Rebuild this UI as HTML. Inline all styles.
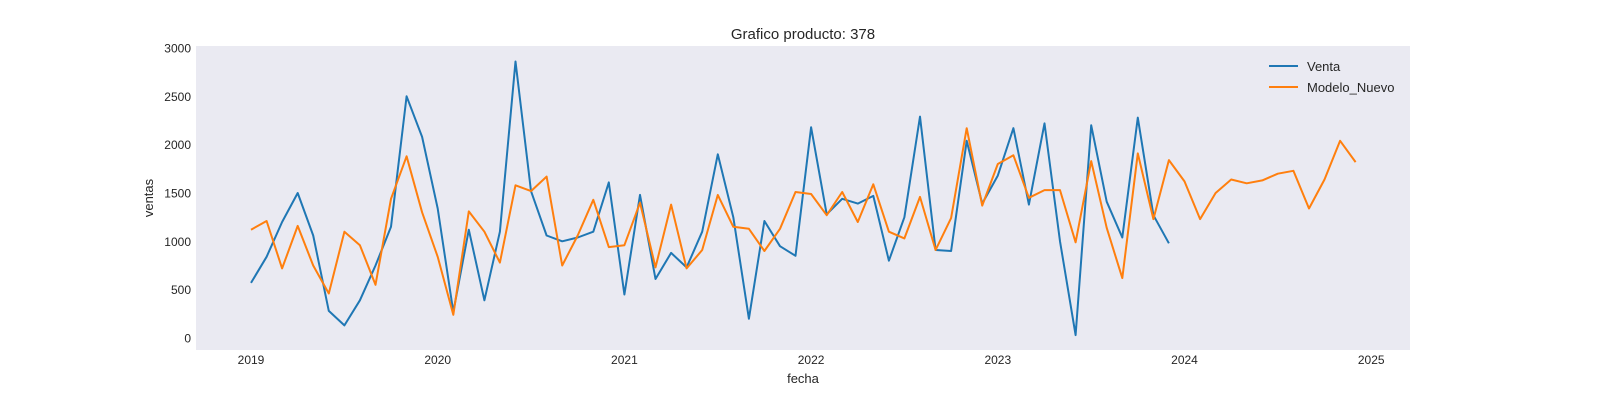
<!DOCTYPE html>
<html><head><meta charset="utf-8">
<style>
body{margin:0;background:#fff;}
svg{display:block;font-family:"Liberation Sans",Arial,sans-serif;}
</style></head>
<body>
<svg id="chart" width="1600" height="400" viewBox="0 0 1600 400" xmlns="http://www.w3.org/2000/svg">
<rect x="196" y="46" width="1214" height="304" fill="#eaeaf2"/>
<text x="803" y="39" text-anchor="middle" font-size="15" fill="#262626">Grafico producto: 378</text>
<text x="803" y="383" text-anchor="middle" font-size="13" fill="#262626">fecha</text>
<text transform="translate(153,198) rotate(-90)" text-anchor="middle" font-size="13" fill="#262626">ventas</text>
<g id="yticks"></g><g id="xticks"></g><g id="series"></g>
<g>
<line x1="1269" y1="66" x2="1298" y2="66" stroke="#1f77b4" stroke-width="2"/>
<text x="1307" y="71" font-size="13" fill="#262626">Venta</text>
<line x1="1269" y1="87" x2="1298" y2="87" stroke="#ff7f0e" stroke-width="2"/>
<text x="1307" y="92" font-size="13" fill="#262626">Modelo_Nuevo</text>
</g>
</svg>
<script>
const yTickValues=[0,500,1000,1500,2000,2500,3000];
const xTickYears=[2019,2020,2021,2022,2023,2024,2025];
const venta=[570,840,1200,1500,1060,280,130,390,750,1150,2500,2080,
1340,270,1120,390,1100,2860,1520,1060,1000,1040,1100,1610,
450,1480,610,880,730,1100,1900,1250,200,1210,950,850,
2180,1280,1440,1390,1470,800,1250,2290,910,900,2040,1390,
1680,2170,1380,2220,1000,30,2200,1410,1040,2280,1270,980];
const modeloNuevo=[1120,1210,720,1160,750,460,1100,960,550,1440,1880,1300,
840,240,1310,1100,780,1580,1520,1670,750,1060,1430,940,
960,1400,730,1380,720,910,1480,1150,1130,900,1130,1510,
1490,1270,1510,1200,1590,1100,1030,1460,910,1240,2170,1370,
1800,1890,1450,1530,1530,990,1830,1140,620,1910,1230,1840,
1620,1230,1500,1640,1600,1630,1700,1730,1340,1640,2040,1820];
const startYear=2019;
const NS="http://www.w3.org/2000/svg";
function xs(t){return 251+(t-2019)*186.7;}
function ys(v){return 338-v*290/3000;}
const yt=document.getElementById('yticks');
yTickValues.forEach(v=>{
 const t=document.createElementNS(NS,'text');
 
 
 t.setAttribute('x',191);t.setAttribute('y',ys(v)+4.5);
 t.setAttribute('text-anchor','end');t.setAttribute('font-size','12');t.setAttribute('fill','#262626');
 t.textContent=v;yt.appendChild(t);
});
const xt=document.getElementById('xticks');
xTickYears.forEach(y=>{
 const t=document.createElementNS(NS,'text');
 
 
 t.setAttribute('x',xs(y));t.setAttribute('y',364);
 t.setAttribute('text-anchor','middle');t.setAttribute('font-size','12');t.setAttribute('fill','#262626');
 t.textContent=y;xt.appendChild(t);
});
function line(data,color,name){
 const pts=data.map((v,i)=>xs(startYear+i/12).toFixed(1)+','+ys(v).toFixed(1)).join(' ');
 const p=document.createElementNS(NS,'polyline');
 
 
 p.setAttribute('points',pts);p.setAttribute('fill','none');
 p.setAttribute('stroke',color);p.setAttribute('stroke-width','2');p.setAttribute('stroke-linejoin','round');
 document.getElementById('series').appendChild(p);
}
line(venta,'#1f77b4','venta-line');
line(modeloNuevo,'#ff7f0e','modelo-nuevo-line');
</script>
</body></html>
